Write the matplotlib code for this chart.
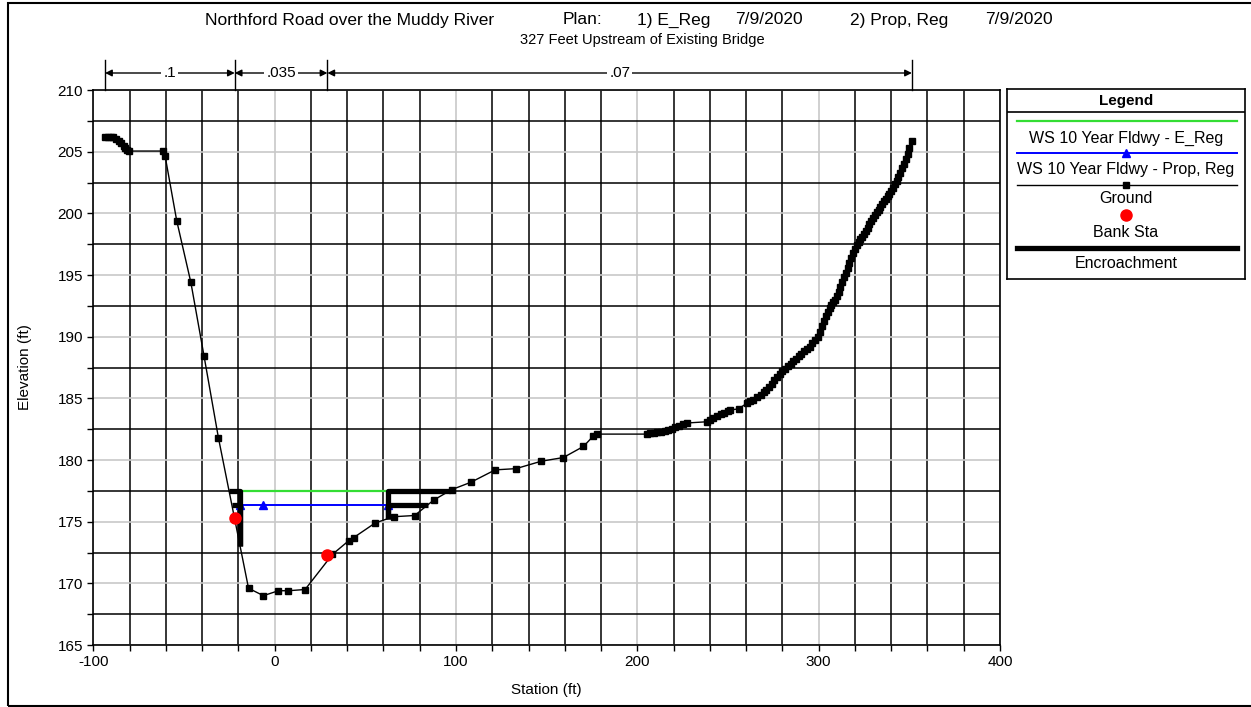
import numpy as np
import matplotlib.pyplot as plt
from matplotlib.patches import Rectangle
from matplotlib.ticker import MultipleLocator

plt.rcParams['font.family'] = ['Liberation Sans', 'DejaVu Sans']
plt.rcParams['axes.unicode_minus'] = False

# ground profile (station ft, elevation ft)
ground_sta = [-93.5, -92.0, -90.5, -89.0, -87.5, -86.0, -84.5, -83.3, -82.3, -81.3, -80.5,
              -61.3, -60.4, -54.0, -46.2, -38.9, -31.0, -14.4, -6.2, 2.1, 7.6, 16.8,
              31.9, 40.8, 43.5, 55.5, 65.6, 77.2, 87.7, 97.7, 108.3, 121.6, 133.1,
              147.0, 159.2, 170.3, 175.8, 177.7,
              205.2, 207.0, 209.0, 211.0, 213.0, 215.0, 217.0, 219.0, 221.0, 223.0, 225.0, 227.3,
              238.3, 240.0, 242.0, 244.0, 246.0, 248.0, 250.0, 251.2, 255.8,
              260.4, 262.0, 264.0, 266.0, 268.0, 269.6, 271.0, 272.5, 274.0, 275.5, 277.0,
              278.5, 280.0, 281.5, 283.0, 284.5, 286.0, 287.5, 289.0, 290.5, 292.0, 293.5,
              295.0, 296.5, 298.0, 299.5, 300.8,
              302.0, 303.0, 304.0, 305.0, 306.0, 307.0, 308.0, 309.0, 310.0, 311.0, 312.0,
              313.0, 314.0, 315.0, 316.0, 317.0, 318.0, 319.0, 320.0, 321.0, 322.0, 323.0,
              324.0, 325.0, 326.0, 327.0, 328.0, 329.0, 330.0, 331.0, 332.0, 333.0, 334.0,
              335.0, 336.0, 337.0, 338.0, 339.0, 340.0, 341.0, 342.0, 343.0, 344.0, 345.0,
              346.0, 347.0, 348.0, 349.0, 350.0, 351.4]
ground_elev = [206.2, 206.2, 206.2, 206.15, 206.05, 205.9, 205.7, 205.5, 205.3, 205.15, 205.05,
               205.05, 204.65, 199.4, 194.4, 188.4, 181.8, 169.6, 169.0, 169.4, 169.4, 169.5,
               172.35, 173.45, 173.7, 174.9, 175.4, 175.5, 176.75, 177.6, 178.2, 179.2, 179.3,
               179.9, 180.2, 181.1, 181.95, 182.1,
               182.1, 182.15, 182.2, 182.25, 182.3, 182.35, 182.45, 182.55, 182.65, 182.75, 182.9, 183.0,
               183.1, 183.25, 183.4, 183.55, 183.7, 183.85, 183.95, 184.05, 184.15,
               184.6, 184.75, 184.9, 185.1, 185.3, 185.5, 185.7, 185.95, 186.2, 186.45, 186.7,
               186.95, 187.2, 187.4, 187.6, 187.8, 188.0, 188.2, 188.4, 188.6, 188.8, 189.0,
               189.2, 189.45, 189.7, 190.0, 190.4,
               190.9, 191.3, 191.7, 192.0, 192.3, 192.6, 192.8, 193.0, 193.3, 193.6, 194.0,
               194.4, 194.8, 195.2, 195.6, 196.0, 196.4, 196.8, 197.1, 197.4, 197.7, 197.9,
               198.1, 198.35, 198.6, 198.85, 199.1, 199.35, 199.6, 199.85, 200.1, 200.3, 200.5,
               200.75, 201.0, 201.2, 201.4, 201.6, 201.8, 202.05, 202.35, 202.65, 202.95, 203.3,
               203.65, 204.0, 204.4, 204.8, 205.3, 205.9]

bank_sta = [-22.0, 29.1]
bank_elev = [175.3, 172.3]

# water surfaces and encroachments
ws_e_reg = 177.5
ws_prop_reg = 176.35
enc_left = -19.1
enc_right = 62.7
ws_marker_sta = [-19.1, -6.2, 62.7]

n_values = ['.1', '.035', '.07']

W, H = 1251, 707


def fx(px):
    return px / W


def fy(py):
    return 1 - py / H


def ground_cross(ws, side):
    sta = np.array(ground_sta)
    elev = np.array(ground_elev)
    low = np.argmin(elev)
    if side == 'left':
        s, e = sta[:low + 1][::-1], elev[:low + 1][::-1]
    else:
        s, e = sta[low:], elev[low:]
    return np.interp(ws, e, s)


fig = plt.figure(figsize=(W / 100, H / 100), dpi=100)
ax = fig.add_axes([fx(93.3), fy(645), fx(1000) - fx(93.3), fy(90) - fy(645)])

ax.set_xlim(-100, 400)
ax.set_ylim(165, 210)
ax.xaxis.set_major_locator(MultipleLocator(100))
ax.xaxis.set_minor_locator(MultipleLocator(20))
ax.yaxis.set_major_locator(MultipleLocator(5))
ax.yaxis.set_minor_locator(MultipleLocator(2.5))
ax.grid(which='major', color='#c8c8c8', lw=1.2)
ax.grid(which='minor', color='black', lw=1.1)
ax.set_axisbelow(True)
ax.tick_params(which='both', direction='out', length=4, width=1, labelsize=11, colors='black')
ax.set_xlabel('Station (ft)', fontsize=11, labelpad=10)
ax.set_ylabel('Elevation (ft)', fontsize=11, labelpad=18)
for sp in ax.spines.values():
    sp.set_linewidth(1.2)

# water surfaces
ax.plot([enc_left, enc_right], [ws_e_reg, ws_e_reg], color='#33dd33', lw=1.6, zorder=3)
ax.plot(ws_marker_sta, [ws_prop_reg] * len(ws_marker_sta), color='blue', lw=1.4,
        marker='^', ms=6, zorder=3)

# ground
ax.plot(ground_sta, ground_elev, color='black', lw=1, marker='s', ms=5, zorder=4)

# encroachments
for ws in [ws_e_reg, ws_prop_reg]:
    gl = ground_cross(ws, 'left')
    gr = ground_cross(ws, 'right')
    zl = np.interp(enc_left, ground_sta, ground_elev)
    zr = np.interp(enc_right, ground_sta, ground_elev)
    ax.plot([gl, enc_left, enc_left], [ws, ws, zl], color='black', lw=3.8,
            solid_capstyle='butt', zorder=5)
    ax.plot([enc_right, enc_right, gr], [zr, ws, ws], color='black', lw=3.8,
            solid_capstyle='butt', zorder=5)

# bank stations
ax.plot(bank_sta, bank_elev, 'o', color='red', ms=8, zorder=6, ls='none')

# manning n regions above plot
n_sta = [ground_sta[0], bank_sta[0], bank_sta[1], ground_sta[-1]]
tr = ax.get_xaxis_transform()
y_arrow = 1 + (90 - 73) / 555
y_top = 1 + (90 - 60) / 555
for s in n_sta:
    ax.plot([s, s], [1.0, y_top], color='black', lw=1, transform=tr, clip_on=False)
for i, lab in enumerate(n_values):
    a, b = n_sta[i], n_sta[i + 1]
    ax.annotate('', xy=(b, y_arrow), xytext=(a, y_arrow), xycoords=tr, textcoords=tr,
                arrowprops=dict(arrowstyle='<|-|>', color='black', lw=1, shrinkA=0, shrinkB=0,
                                mutation_scale=10), annotation_clip=False)
    ax.text((a + b) / 2, y_arrow, lab, transform=tr, ha='center', va='center', fontsize=11,
            bbox=dict(facecolor='white', edgecolor='none', pad=1.5), clip_on=False)

# titles
fig.text(fx(205), fy(20), 'Northford Road over the Muddy River', fontsize=12.5, va='center')
fig.text(fx(563), fy(20), 'Plan:', fontsize=12.5, va='center')
fig.text(fx(637), fy(20), '1) E_Reg', fontsize=12.5, va='center')
fig.text(fx(735), fy(20), '7/9/2020', fontsize=12.5, va='center')
fig.text(fx(850), fy(20), '2) Prop, Reg', fontsize=12.5, va='center')
fig.text(fx(985), fy(20), '7/9/2020', fontsize=12.5, va='center')
fig.text(fx(642), fy(40), '327 Feet Upstream of Existing Bridge', fontsize=10.5,
         ha='center', va='center')

# legend box
lg = fig.add_axes([fx(1006.7), fy(279), fx(1245) - fx(1006.7), fy(89.3) - fy(279)])
lg.set_xlim(1006.7, 1245)
lg.set_ylim(279, 89.3)
lg.set_xticks([])
lg.set_yticks([])
for sp in lg.spines.values():
    sp.set_linewidth(1.2)
lg.axhline(111.7, color='black', lw=1.2)
lg.text(1126, 100.5, 'Legend', fontsize=11, fontweight='bold', ha='center', va='center')
x0, x1, xm = 1016.7, 1237, 1126
lg.plot([x0, x1], [120.7, 120.7], color='#33dd33', lw=1.6)
lg.text(xm, 138.3, 'WS 10 Year Fldwy - E_Reg', fontsize=11.5, ha='center', va='center')
lg.plot([x0, x1], [152.7, 152.7], color='blue', lw=1.4)
lg.plot([xm], [152.7], marker='^', color='blue', ms=6)
lg.text(xm, 169.3, 'WS 10 Year Fldwy - Prop, Reg', fontsize=11.5, ha='center', va='center')
lg.plot([x0, x1], [185, 185], color='black', lw=1)
lg.plot([xm], [185], marker='s', color='black', ms=5)
lg.text(xm, 198.3, 'Ground', fontsize=11.5, ha='center', va='center')
lg.plot([xm], [215], marker='o', color='red', ms=8)
lg.text(xm, 232.7, 'Bank Sta', fontsize=11.5, ha='center', va='center')
lg.plot([x0, x1], [248.3, 248.3], color='black', lw=3.8)
lg.text(xm, 263.3, 'Encroachment', fontsize=11.5, ha='center', va='center')

# outer frame
fig.patches.append(Rectangle((fx(8), fy(706)), 1.2, fy(3) - fy(706), transform=fig.transFigure,
                             fill=False, edgecolor='black', lw=1.5))

fig.savefig('out.png', dpi=100)
